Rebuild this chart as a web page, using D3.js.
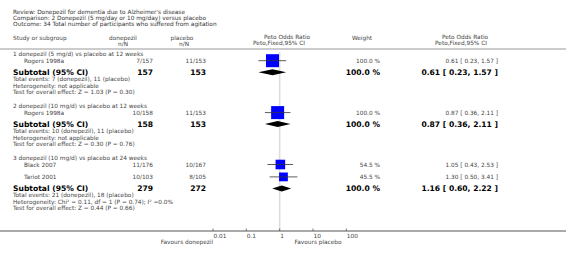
<!DOCTYPE html>
<html><head><meta charset="utf-8">
<script src="https://cdn.jsdelivr.net/npm/d3@7"></script>
<style>
body{margin:0;background:#fff;}
svg{display:block;font-family:"DejaVu Sans",Verdana,sans-serif;}
</style></head>
<body><svg id="c" width="566" height="261"></svg>
<script>
const titleLines = [
  "Review:  Donepezil for dementia due to Alzheimer's disease",
  "Comparison:  2 Donepezil (5 mg/day or 10 mg/day) versus placebo",
  "Outcome:  34 Total number of participants who suffered from agitation"
];
const groupNames = [
  "1 donepezil (5 mg/d) vs placebo at 12 weeks",
  "2 donepezil (10 mg/d) vs placebo at 12 weeks",
  "3 donepezil (10 mg/d) vs placebo at 24 weeks"
];
const studyNames   = ["Rogers 1998a", "Rogers 1998a", "Black 2007", "Tariot 2001"];
const studyGroup   = [0, 1, 2, 2];
const studyTreat   = ["7/157", "10/158", "11/176", "10/103"];
const studyCtrl    = ["11/153", "11/153", "10/167", "8/105"];
const studyWeight  = [100.0, 100.0, 54.5, 45.5];
const studyOR      = [0.61, 0.87, 1.05, 1.30];
const studyLo      = [0.23, 0.36, 0.43, 0.50];
const studyHi      = [1.57, 2.11, 2.53, 3.41];
const subTreatN    = [157, 158, 279];
const subCtrlN     = [153, 153, 272];
const subWeight    = [100.0, 100.0, 100.0];
const subOR        = [0.61, 0.87, 1.16];
const subLo        = [0.23, 0.36, 0.60];
const subHi        = [1.57, 2.11, 2.22];
const totalEvents  = [
  "Total events: 7 (donepezil), 11 (placebo)",
  "Total events: 10 (donepezil), 11 (placebo)",
  "Total events: 21 (donepezil), 18 (placebo)"
];
const heterogeneity = [
  "Heterogeneity: not applicable",
  "Heterogeneity: not applicable",
  "Heterogeneity: Chi\u00B2 = 0.11, df = 1 (P = 0.74); I\u00B2 =0.0%"
];
const overallEffect = [
  "Test for overall effect: Z = 1.03 (P = 0.30)",
  "Test for overall effect: Z = 0.30 (P = 0.76)",
  "Test for overall effect: Z = 0.44 (P = 0.66)"
];
const axisTicks = [0.01, 0.1, 1, 10, 100];
const axisTickLabels = ["0.01", "0.1", "1", "10", "100"];
const favoursLeft = "Favours donepezil";
const favoursRight = "Favours placebo";

const svg = d3.select("#c");
const fmt = d3.format(".2f");
const small = 5.8, big = 7.6;
const grey = "#444";

function txt(x, y, s, opt = {}) {
  return svg.append("text").attr("x", x).attr("y", y + (opt.size || small) * 0.36)
    .attr("font-size", opt.size || small)
    .attr("font-weight", opt.bold ? "bold" : null)
    .attr("text-anchor", opt.anchor || "start")
    .attr("fill", opt.fill || grey).text(s);
}

// title
titleLines.forEach((t, i) => txt(13, [12.0, 17.8, 23.6][i], t, {fill: "#333"}));

// header
txt(13, 38.3, "Study or subgroup");
txt(123, 37.8, "donepezil", {anchor: "middle"});
txt(123, 43.6, "n/N", {anchor: "middle"});
txt(182, 37.8, "placebo", {anchor: "middle"});
txt(184, 43.6, "n/N", {anchor: "middle"});
txt(287, 37.2, "Peto Odds Ratio", {anchor: "middle"});
txt(279, 43.0, "Peto,Fixed,95% CI", {anchor: "middle"});
txt(362, 37.5, "Weight", {anchor: "middle"});
txt(465, 37.2, "Peto Odds Ratio", {anchor: "middle"});
txt(461, 43.0, "Peto,Fixed,95% CI", {anchor: "middle"});
svg.append("line").attr("x1", 0).attr("x2", 566).attr("y1", 49).attr("y2", 49)
  .attr("stroke", "#999").attr("stroke-width", 1);

// scale
const x = d3.scaleLog().domain([0.01, 100]).range([213, 346.3]);
const axisY = 231;

// reference line at 1
svg.append("line").attr("x1", x(1)).attr("x2", x(1)).attr("y1", 52).attr("y2", axisY)
  .attr("stroke", "#ddd").attr("stroke-width", 1.6);

const sq = d3.scaleSqrt().domain([0, 100]).range([0, 13]);

// layout
let y = 54.3;
const colT = 153, colC = 206, colW = 380, colCI = 498;
groupNames.forEach((g, gi) => {
  txt(13, y, g);
  let sy = y + 6.4;
  const idx = studyGroup.map((v, i) => v === gi ? i : -1).filter(i => i >= 0);
  idx.forEach((i, k) => {
    if (k > 0) sy += 12.4;
    txt(24, sy, studyNames[i]);
    txt(colT, sy, studyTreat[i], {anchor: "end"});
    txt(colC, sy, studyCtrl[i], {anchor: "end"});
    txt(colW, sy, studyWeight[i].toFixed(1) + " %", {anchor: "end"});
    txt(colCI, sy, `${fmt(studyOR[i])} [ ${fmt(studyLo[i])}, ${fmt(studyHi[i])} ]`, {anchor: "end"});
    const s = sq(studyWeight[i]);
    svg.append("rect").attr("x", x(studyOR[i]) - s / 2).attr("y", sy - s / 2)
      .attr("width", s).attr("height", s).attr("fill", "#0000ff");
    svg.append("line").attr("x1", x(studyLo[i])).attr("x2", x(studyHi[i]))
      .attr("y1", sy).attr("y2", sy).attr("stroke", "#333").attr("stroke-width", 0.8);
  });
  const st = sy + 11.5;
  txt(13, st, "Subtotal (95% CI)", {size: big, bold: true, fill: "#000"});
  txt(colT, st, subTreatN[gi], {size: big, bold: true, fill: "#000", anchor: "end"});
  txt(colC, st, subCtrlN[gi], {size: big, bold: true, fill: "#000", anchor: "end"});
  txt(colW, st, subWeight[gi].toFixed(1) + " %", {size: big, bold: true, fill: "#000", anchor: "end"});
  txt(colCI, st, `${fmt(subOR[gi])} [ ${fmt(subLo[gi])}, ${fmt(subHi[gi])} ]`, {size: big, bold: true, fill: "#000", anchor: "end"});
  const h = 3;
  svg.append("path").attr("d", `M${x(subLo[gi])},${st} L${x(subOR[gi])},${st - h} L${x(subHi[gi])},${st} L${x(subOR[gi])},${st + h} Z`)
    .attr("fill", "#000");
  txt(13, st + 7, totalEvents[gi]);
  txt(13, st + 13.8, heterogeneity[gi]);
  txt(13, st + 19.8, overallEffect[gi]);
  y = st + 19.8 + 14.2;
});

// axis
svg.append("line").attr("x1", 0).attr("x2", 566).attr("y1", axisY).attr("y2", axisY)
  .attr("stroke", "#555").attr("stroke-width", 1);
const ax = svg.append("g").attr("transform", `translate(0,${axisY})`);
axisTicks.forEach((t, i) => {
  ax.append("line").attr("x1", x(t)).attr("x2", x(t)).attr("y1", 0).attr("y2", -2.5)
    .attr("stroke", "#555").attr("stroke-width", 0.8);
  ax.append("text").attr("x", x(t) + 0.5).attr("y", 6.8).attr("font-size", small)
    .attr("text-anchor", "start").attr("fill", grey).text(axisTickLabels[i]);
});
txt(x(0.01), 242, favoursLeft, {anchor: "end"});
txt(294.5, 242, favoursRight);
</script></body></html>
